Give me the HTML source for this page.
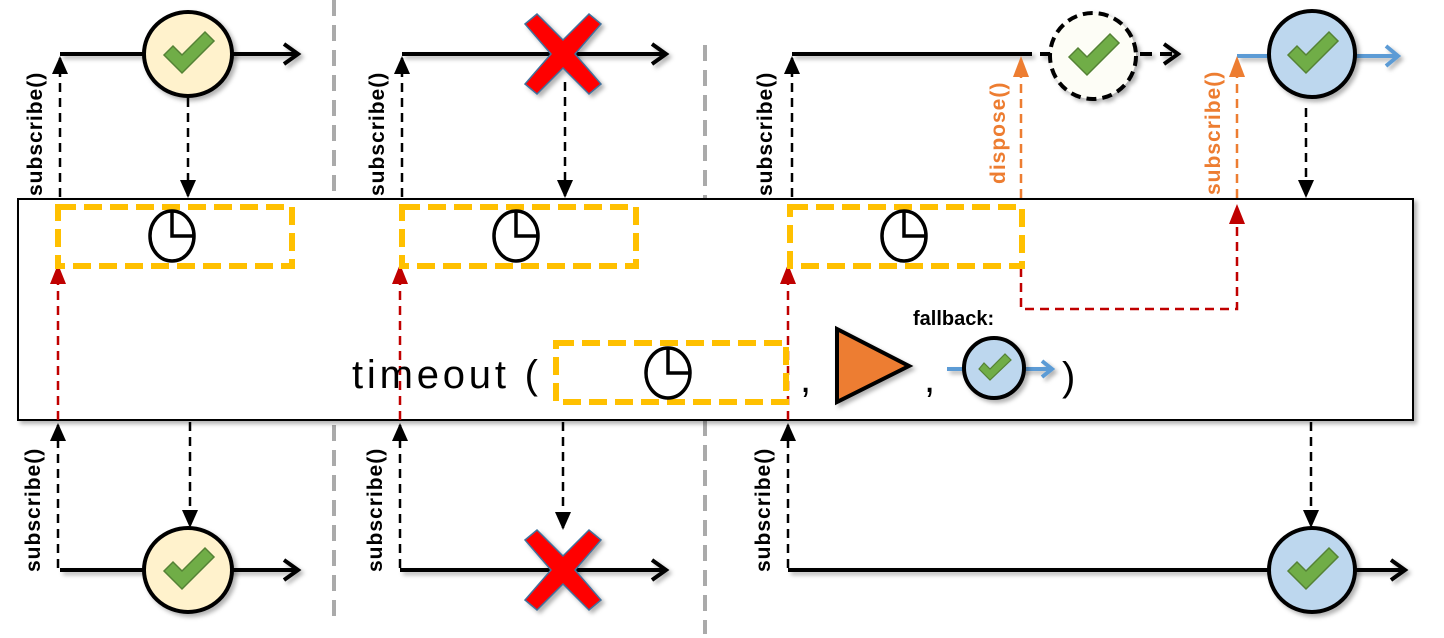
<!DOCTYPE html>
<html><head><meta charset="utf-8"><style>
html,body{margin:0;padding:0;background:#fff;}
svg{display:block;font-family:"Liberation Sans",sans-serif;}
.sub{font-weight:bold;font-size:21px;letter-spacing:1px;}
</style></head><body>
<svg width="1444" height="638" viewBox="0 0 1444 638">
<defs>
<marker id="ad" viewBox="0 0 16 18" markerWidth="16" markerHeight="18" refX="8" refY="16" markerUnits="userSpaceOnUse" orient="0"><path d="M0,0 L8,18 L16,0 Z" fill="#000"/></marker>
<marker id="au" viewBox="0 0 16 18" markerWidth="16" markerHeight="18" refX="8" refY="2" markerUnits="userSpaceOnUse" orient="0"><path d="M0,18 L8,0 L16,18 Z" fill="#000"/></marker>
<filter id="sh" x="-20%" y="-20%" width="150%" height="150%"><feDropShadow dx="3" dy="3" stdDeviation="2" flood-color="#000" flood-opacity="0.3"/></filter>
</defs>

<line x1="334" y1="0" x2="334" y2="625" stroke="#aaa" stroke-width="4" stroke-dasharray="16,9"/>
<line x1="705" y1="45" x2="705" y2="634" stroke="#aaa" stroke-width="4" stroke-dasharray="16,9"/>

<rect x="18" y="199" width="1395" height="221" fill="#fff" stroke="#000" stroke-width="2" filter="url(#sh)"/>

<g stroke="#000" stroke-width="4" fill="none" filter="url(#sh)">
<line x1="60" y1="54" x2="298" y2="54"/>
<polyline points="284,44 298,54 284,64"/>
<line x1="402" y1="54" x2="666" y2="54"/>
<polyline points="652,44 666,54 652,64"/>
<line x1="792" y1="54" x2="1020" y2="54"/>
<line x1="1020" y1="54" x2="1178" y2="54" stroke-dasharray="12,8"/>
<polyline points="1164,44 1178,54 1164,64"/>
<line x1="60" y1="570" x2="298" y2="570"/>
<polyline points="284,560 298,570 284,580"/>
<line x1="400" y1="570" x2="666" y2="570"/>
<polyline points="652,560 666,570 652,580"/>
<line x1="788" y1="570" x2="1405" y2="570"/>
<polyline points="1391,560 1405,570 1391,580"/>
</g>
<g stroke="#5b9bd5" stroke-width="4" fill="none" filter="url(#sh)">
<line x1="1237" y1="56" x2="1398" y2="56"/>
<polyline points="1386,46 1398,56 1386,66"/>
<line x1="947" y1="369" x2="1052" y2="369"/>
<polyline points="1042,361 1052,369 1042,377"/>
</g>

<g stroke="#000" stroke-width="2.5" stroke-dasharray="9,6" fill="none">
<line x1="60" y1="197" x2="60" y2="58" marker-end="url(#au)"/>
<line x1="402" y1="197" x2="402" y2="58" marker-end="url(#au)"/>
<line x1="792" y1="197" x2="792" y2="58" marker-end="url(#au)"/>
<line x1="58" y1="568" x2="58" y2="425" marker-end="url(#au)"/>
<line x1="400" y1="568" x2="400" y2="425" marker-end="url(#au)"/>
<line x1="788" y1="568" x2="788" y2="425" marker-end="url(#au)"/>
<line x1="188" y1="98" x2="188" y2="196" marker-end="url(#ad)"/>
<line x1="565" y1="82" x2="565" y2="196" marker-end="url(#ad)"/>
<line x1="1306" y1="108" x2="1306" y2="196" marker-end="url(#ad)"/>
<line x1="190" y1="422" x2="190" y2="526" marker-end="url(#ad)"/>
<line x1="563" y1="422" x2="563" y2="528" marker-end="url(#ad)"/>
<line x1="1311" y1="422" x2="1311" y2="526" marker-end="url(#ad)"/>
</g>

<g stroke="#c00000" stroke-width="2.5" stroke-dasharray="9,6" fill="none">
<line x1="58" y1="420" x2="58" y2="282"/>
<line x1="400" y1="420" x2="400" y2="282"/>
<line x1="788" y1="420" x2="788" y2="282"/>
<polyline points="1021,268 1021,309 1237,309 1237,222"/>
</g>
<g fill="#c00000">
<polygon points="50,284 58,264 66,284"/>
<polygon points="392,284 400,264 408,284"/>
<polygon points="780,284 788,264 796,284"/>
<polygon points="1229,224 1237,204 1245,224"/>
</g>
<g stroke="#ed7d31" stroke-width="2.5" stroke-dasharray="9,6" fill="none">
<line x1="1021" y1="198" x2="1021" y2="74"/>
<line x1="1237" y1="198" x2="1237" y2="74"/>
</g>
<g fill="#ed7d31">
<polygon points="1013,77 1021,56 1029,77"/>
<polygon points="1229,77 1237,56 1245,77"/>
</g>

<g stroke="#ffc000" stroke-width="6" stroke-dasharray="18,8" fill="none">
<rect x="58" y="207" width="234" height="59"/>
<rect x="402" y="207" width="234" height="59"/>
<rect x="790" y="207" width="232" height="59"/>
<rect x="556" y="343" width="230" height="59"/>
</g>

<g stroke="#000" stroke-width="3.5" fill="#fff">
<g transform="translate(172,236)"><ellipse rx="22" ry="25"/><polyline points="0,-25 0,0 22,0" fill="none"/></g>
<g transform="translate(516,236)"><ellipse rx="22" ry="25"/><polyline points="0,-25 0,0 22,0" fill="none"/></g>
<g transform="translate(904,236)"><ellipse rx="22" ry="25"/><polyline points="0,-25 0,0 22,0" fill="none"/></g>
<g transform="translate(668,373)"><ellipse rx="22" ry="25"/><polyline points="0,-25 0,0 22,0" fill="none"/></g>
</g>

<g filter="url(#sh)">
<g transform="translate(188,54)"><ellipse rx="44" ry="42" fill="#fff2cc" stroke="#000" stroke-width="4"/><polygon points="-24,1 -15,-8 -6,1 17,-22 26,-13 -6,19" fill="#70ad47" stroke="#548235" stroke-width="1.5"/></g>
<g transform="translate(188,570)"><ellipse rx="44" ry="42" fill="#fff2cc" stroke="#000" stroke-width="4"/><polygon points="-24,1 -15,-8 -6,1 17,-22 26,-13 -6,19" fill="#70ad47" stroke="#548235" stroke-width="1.5"/></g>
<g transform="translate(1093,56)"><ellipse rx="43" ry="43" fill="#fdfdf6" stroke="#000" stroke-width="4" stroke-dasharray="10,6"/><polygon points="-24,1 -15,-8 -6,1 17,-22 26,-13 -6,19" fill="#70ad47" stroke="#548235" stroke-width="1.5"/></g>
<g transform="translate(1312,54)"><ellipse rx="43" ry="43" fill="#bdd7ee" stroke="#000" stroke-width="4"/><polygon points="-24,1 -15,-8 -6,1 17,-22 26,-13 -6,19" fill="#70ad47" stroke="#548235" stroke-width="1.5"/></g>
<g transform="translate(1312,570)"><ellipse rx="43" ry="42" fill="#bdd7ee" stroke="#000" stroke-width="4"/><polygon points="-24,1 -15,-8 -6,1 17,-22 26,-13 -6,19" fill="#70ad47" stroke="#548235" stroke-width="1.5"/></g>
<g transform="translate(994,368)"><ellipse rx="30" ry="30" fill="#bdd7ee" stroke="#000" stroke-width="4"/><polygon points="-15,1 -10,-5 -4,1 11,-14 17,-8 -4,12" fill="#70ad47" stroke="#548235" stroke-width="1.2"/></g>
<g transform="translate(563,54)"><polygon points="-38,-30 -26,-40 0,-14 26,-40 38,-30 12,0 38,30 26,40 0,14 -26,40 -38,30 -12,0" fill="#ff0000" stroke="#41719c" stroke-width="1.5"/></g>
<g transform="translate(563,570)"><polygon points="-38,-30 -26,-40 0,-14 26,-40 38,-30 12,0 38,30 26,40 0,14 -26,40 -38,30 -12,0" fill="#ff0000" stroke="#41719c" stroke-width="1.5"/></g>
<polygon points="837,329 837,402 909,366" fill="#ed7d31" stroke="#000" stroke-width="4"/>
</g>

<g class="sub" fill="#000">
<text transform="translate(42,196) rotate(-90)">subscribe()</text>
<text transform="translate(384,196) rotate(-90)">subscribe()</text>
<text transform="translate(772,196) rotate(-90)">subscribe()</text>
<text transform="translate(40,572) rotate(-90)">subscribe()</text>
<text transform="translate(382,572) rotate(-90)">subscribe()</text>
<text transform="translate(770,572) rotate(-90)">subscribe()</text>
<text transform="translate(1005,184) rotate(-90)" fill="#ed7d31">dispose()</text>
<text transform="translate(1220,195) rotate(-90)" fill="#ed7d31">subscribe()</text>
<text x="913" y="325" style="font-size:20px;letter-spacing:0">fallback:</text>
</g>
<g font-size="40" fill="#000">
<text x="352" y="388" textLength="186">timeout (</text>
<text x="800" y="392">,</text>
<text x="924" y="392">,</text>
<text x="1062" y="390">)</text>
</g>
</svg>
</body></html>
